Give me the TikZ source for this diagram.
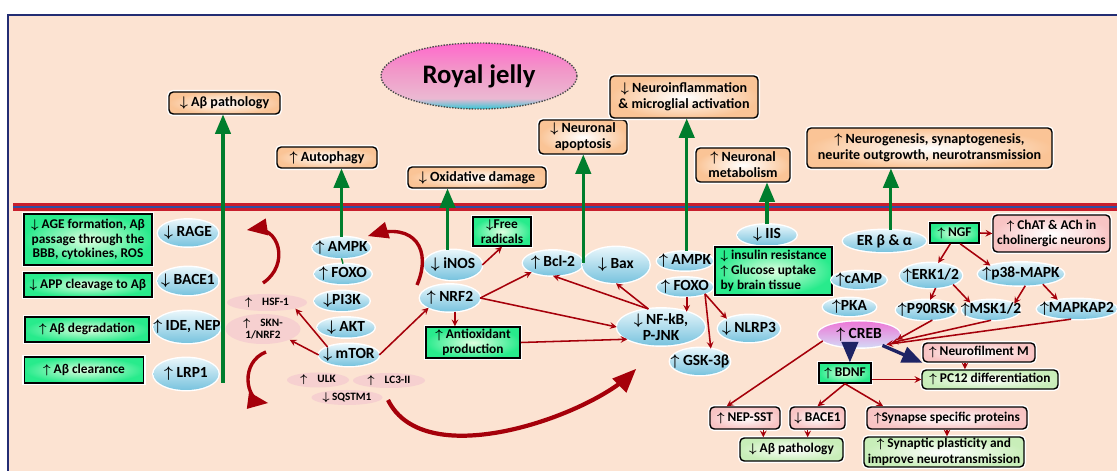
\documentclass[tikz,border=0pt]{standalone}
\usepackage{amsmath}
\usepackage{amssymb}
\usepackage{fontspec}
\setmainfont{Carlito}
\usepackage{tikz}
\usetikzlibrary{shapes.geometric, arrows}

\definecolor{peach}{RGB}{252,227,210}
\definecolor{framecol}{RGB}{35,45,115}
\definecolor{memred}{RGB}{200,30,45}
\definecolor{memblue}{RGB}{45,80,165}
\definecolor{effgreen}{RGB}{0,125,45}
\definecolor{arrred}{RGB}{165,0,10}
\definecolor{navyarr}{RGB}{30,35,100}
\definecolor{effcol}{RGB}{250,196,150}
\definecolor{molhi}{RGB}{232,246,251}
\definecolor{mollo}{RGB}{120,195,222}
\definecolor{rjgreen}{RGB}{40,235,140}
\definecolor{pinkmol}{RGB}{246,208,208}
\definecolor{pinkout}{RGB}{248,196,196}
\definecolor{greenout}{RGB}{200,238,185}
\definecolor{jellytop}{RGB}{255,105,205}
\definecolor{jellymid}{RGB}{242,150,200}
\definecolor{jellylow}{RGB}{235,185,210}
\definecolor{jellyedge}{RGB}{50,200,215}

\pgfdeclareverticalshading{jellyshade}{100bp}{color(0bp)=(jellyedge); color(25bp)=(jellyedge); color(33bp)=(jellylow); color(55bp)=(jellymid); color(75bp)=(jellytop); color(100bp)=(jellytop)}

\newcommand{\upa}{$\boldsymbol{\uparrow}$}
\newcommand{\dna}{$\boldsymbol{\downarrow}$}

\tikzset{sz/.style 2 args={minimum width=#1*0.025cm, minimum height=#2*0.025cm}}
\tikzstyle{jelly} = [ellipse, inner sep=0pt, draw=black!70, densely dotted, line width=1pt, shading=jellyshade, font=\bfseries\fontsize{19}{21}\selectfont, sz={196}{66}]
\tikzstyle{effect} = [rectangle, rounded corners=3pt, draw=black, line width=1pt, inner color=white, outer color=effcol, preaction={draw=white, line width=3pt}, font=\bfseries\fontsize{10}{11.5}\selectfont, align=center, inner sep=1pt]
\tikzstyle{gbox} = [rectangle, draw=black, line width=1.1pt, inner color=green!12!white, outer color=rjgreen, preaction={draw=white, line width=3pt}, font=\bfseries\fontsize{9.5}{10.5}\selectfont, align=center, inner sep=1pt]
\tikzstyle{outbox} = [rectangle, rounded corners=3pt, draw=black, line width=1pt, inner color=white, outer color=pinkout, preaction={draw=white, line width=3pt}, font=\bfseries\fontsize{9.5}{11}\selectfont, align=center, inner sep=1pt]
\tikzstyle{outgbox} = [outbox, outer color=greenout]
\tikzstyle{mol} = [ellipse, inner xsep=-30pt, inner ysep=-20pt, top color=molhi, bottom color=mollo, preaction={draw=white, line width=2pt}, font=\bfseries\fontsize{11}{11.5}\selectfont, align=center]
\tikzstyle{pmol} = [ellipse, inner xsep=-30pt, inner ysep=-20pt, fill=pinkmol, font=\bfseries\fontsize{8}{9}\selectfont, align=center]
\tikzstyle{garrow} = [draw=effgreen, line width=2.2pt, -triangle 45]
\tikzstyle{gline} = [draw=effgreen, line width=1pt]
\tikzstyle{rarrow} = [draw=arrred, line width=1.1pt, ->, >=stealth]
\tikzstyle{bigcurve} = [draw=arrred, line width=2.4pt, -triangle 45]
\tikzstyle{fatarrow} = [draw=navyarr, line width=2.4pt, -triangle 45]

\begin{document}
\begin{tikzpicture}[x=0.025cm, y=-0.025cm]
\useasboundingbox (0,0) rectangle (1117,471);
\clip (0,0) rectangle (1117,471);
\fill[white] (0,0) rectangle (1117,471);
\draw[line width=1.2pt, draw=framecol, fill=peach] (8,15) rectangle (1140,490);

% membrane
\draw[line width=5.5pt, memred] (13,207) -- (1140,207);
\draw[line width=1.8pt, memblue] (13,207) -- (1140,207);

\node (rj) [jelly] at (479,76) {Royal jelly};

% outcomes
\node (abpath) [effect, sz={111}{22}] at (224.5,103) {\dna{} Aβ pathology};
\node (autoph) [effect, sz={100}{21}] at (327,157.5) {\upa{} Autophagy};
\node (oxdam) [effect, sz={138}{21}] at (477,177.5) {\dna{} Oxidative damage};
\node (apopt) [effect, sz={88}{34}] at (583,137) {\dna{} Neuronal\\apoptosis};
\node (neuroinf) [effect, sz={148}{42}] at (684,97) {\dna{} Neuroinflammation\\\& microglial activation};
\node (metab) [effect, sz={94}{34}] at (743,165) {\upa{} Neuronal\\metabolism};
\node (neurogen) [effect, sz={245}{40}] at (929.5,148) {\upa{} Neurogenesis, synaptogenesis,\\neurite outgrowth, neurotransmission};

% amyloid column
\node (age) [gbox, sz={128}{51}] at (88,239.5) {\dna{} AGE formation, Aβ\\passage through the\\BBB, cytokines, ROS};
\node (rage) [mol, sz={60}{27}] at (188,233) {\dna{} RAGE};
\node (app) [gbox, sz={128}{24}] at (88,285) {\dna{} APP cleavage to Aβ};
\node (bace) [mol, sz={61}{28}] at (188,281) {\dna{} BACE1};
\node (degr) [gbox, sz={124}{25}] at (87,329.5) {\upa{} Aβ degradation};
\node (idenep) [mol, sz={67}{32}] at (187,327) {\upa{} IDE, NEP};
\node (clear) [gbox, sz={119}{26}] at (84,370) {\upa{} Aβ clearance};
\node (lrp) [mol, sz={65}{32}] at (186,374) {\upa{} LRP1};
\coordinate (abtail) at (223,383);

% autophagy
\node (hsf) [pmol, sz={80}{17}] at (267,302.5) {\upa{} HSF-1};
\node (skn) [pmol, sz={75}{30}] at (263,329) {\upa{} SKN-\\1/NRF2};
\node (ampk) [mol, sz={58}{21}] at (341.5,247.5) {\upa{} AMPK};
\node (foxo) [mol, sz={57}{20}] at (343,274) {\upa{} FOXO};
\node (pik) [mol, sz={55}{20}] at (342,301) {\dna{}PI3K};
\node (akt) [mol, sz={57}{20}] at (346,327.5) {\dna{} AKT};
\node (mtor) [mol, sz={60}{22}] at (349,355) {\dna{} mTOR};
\node (ulk) [pmol, sz={62}{15}] at (318,380) {\upa{} ULK};
\node (lc) [pmol, sz={72}{15}] at (389,380.5) {\upa{} LC3-II};
\node (sqstm) [pmol, sz={71}{15}] at (347,397.5) {\dna{} SQSTM1};
\coordinate (loopatail) at (263,283);
\coordinate (loopahead) at (247,230);
\coordinate (loopbtail) at (266,352);
\coordinate (loopbhead) at (268,403);

% oxidative stress, apoptosis, inflammation
\node (inos) [mol, sz={58}{30}] at (453,265) {\dna{} iNOS};
\node (nrf) [mol, sz={60}{27}] at (450,298) {\upa{} NRF2};
\node (freerad) [gbox, sz={58}{29}] at (502,231.5) {\dna{}Free\\radicals};
\node (antiox) [gbox, sz={94}{31}] at (473,342.5) {\upa{} Antioxidant\\production};
\node (bcl) [mol, sz={60}{25}] at (553,263) {\upa{} Bcl-2};
\node (bax) [mol, sz={67}{36}] at (616,265) {\dna{} Bax};
\node (nfkb) [mol, sz={88}{37}] at (661,327) {\dna{} NF-kB,\\P-JNK};
\node (ampkb) [mol, sz={56}{19}] at (685,261) {\upa{} AMPK};
\node (foxob) [mol, sz={56}{19}] at (685,287) {\upa{} FOXO};
\node (nlrp) [mol, sz={62}{27}] at (749,328.5) {\dna{} NLRP3};
\node (gsk) [mol, sz={60}{27}] at (700,361.5) {\upa{} GSK-3β};
\coordinate (nrftail) at (417,285);
\coordinate (ampkhead) at (368,236);
\coordinate (sqtail) at (388,400);
\coordinate (nfhead) at (636,369);

% metabolism and neurogenesis
\node (iis) [mol, sz={59}{21}] at (767,235) {\dna{} IIS};
\node (insul) [gbox, sz={111}{48}, align=left, inner xsep=4pt] at (773.5,271) {\dna{} insulin resistance\\\upa{} Glucose uptake\\by brain tissue};
\node (camp) [mol, sz={55}{18}] at (859,280) {\upa{}cAMP};
\node (pka) [mol, sz={53}{18}] at (849.5,307) {\upa{}PKA};
\node (creb) [mol, sz={82}{26}, top color={rgb,255:red,236;green,120;blue,215}, bottom color={rgb,255:red,212;green,216;blue,245}] at (859,334.5) {\upa{} CREB};
\node (er) [mol, sz={83}{22}] at (884.5,241) {ER β \& α};
\node (ngf) [gbox, sz={49}{20}] at (954.5,233) {\upa{} NGF};
\node (chat) [outbox, sz={117}{37}] at (1051.5,233.5) {\upa{} ChAT \& ACh in\\cholinergic neurons};
\node (erk) [mol, sz={62}{25}] at (931,275.5) {\upa{}ERK1/2};
\node (p38) [mol, sz={86}{23}] at (1021,274) {\upa{}p38-MAPK};
\node (p90) [mol, sz={61}{20}] at (926.5,310) {\upa{}P90RSK};
\node (msk) [mol, sz={58}{20}] at (991,310) {\upa{}MSK1/2};
\node (mapkap) [mol, sz={80}{20}] at (1077,309) {\upa{}MAPKAP2};
\node (neurofil) [outbox, sz={112}{19}] at (979,352.5) {\upa{} Neurofilment M};
\node (pc12) [outgbox, sz={136}{19}] at (990,379.5) {\upa{} PC12 differentiation};
\node (bdnf) [gbox, sz={52}{20}] at (845,373) {\upa{} BDNF};
\node (nepsst) [outbox, sz={70}{22}] at (745,418) {\upa{} NEP-SST};
\node (baceb) [outbox, sz={55}{22}] at (817.5,418) {\dna{} BACE1};
\node (synprot) [outbox, sz={160}{22}] at (947,418) {\upa{}Synapse specific proteins};
\node (abpathb) [outgbox, sz={103}{23}] at (791.5,449.5) {\dna{} Aβ pathology};
\node (synplast) [outgbox, sz={160}{30}] at (944,452) {\upa{} Synaptic plasticity and\\improve neurotransmission};

% green arrows through the membrane
\draw [garrow] (abtail) -- (abtail |- abpath.south);
\draw [gline] (foxo.north) -- (ampk.south);
\draw [garrow] (ampk.north) -- (ampk.north |- autoph.south);
\draw [garrow] (inos.110) -- (inos.110 |- oxdam.south);
\draw [garrow] (bcl.east) -- (bcl.east |- apopt.south);
\draw [garrow] (ampkb.80) -- (ampkb.80 |- neuroinf.south);
\draw [garrow] (iis.north) -- (iis.north |- metab.south);
\draw [garrow] (er.60) -- (er.60 |- neurogen.south);

% curved arrows
\draw [bigcurve] (loopatail) .. controls (290,265) and (280,225) .. (loopahead);
\draw [bigcurve] (loopbtail) .. controls (240,362) and (245,400) .. (loopbhead);
\draw [bigcurve] (nrftail) .. controls (432,250) and (415,222) .. (ampkhead);
\draw [bigcurve, line width=3pt] (sqtail) .. controls (425,475) and (590,415) .. (nfhead);

% signalling arrows
\draw [rarrow] (mtor.north west) -- (hsf.south east);
\draw [rarrow] (mtor.west) -- (skn.south east);
\draw [rarrow] (mtor.east) -- (nrf.south west);
\draw [rarrow] (inos.east) -- (freerad.south);
\draw [rarrow] (nrf.east) -- (bcl.south west);
\draw [rarrow] (nrf.east) -- (nfkb.west);
\draw [rarrow] (nrf.-70) -- (nrf.-70 |- antiox.north);
\draw [rarrow] (antiox.east) -- (nfkb.200);
\draw [rarrow] (nfkb.125) -- (bcl.south);
\draw [rarrow] (nfkb.125) -- (bax.south);
\draw [rarrow, shorten >=-2.5pt] (foxob.-80) -- (foxob.-80 |- nfkb.north);
\draw [rarrow] (foxob.south east) -- (nlrp.north west);
\draw [rarrow] (foxob.south east) -- (gsk.50);

\draw [rarrow] (ngf.east) -- (chat.west);
\draw [rarrow] ([xshift=-3pt]ngf.south) -- (erk.60);
\draw [rarrow] ([xshift=4pt]ngf.south) -- (p38.north west);
\draw [rarrow] (erk.-70) -- (p90.70);
\draw [rarrow] (erk.south east) -- (msk.north west);
\draw [rarrow] (p38.-70) -- (msk.15);
\draw [rarrow] (p38.-25) -- (mapkap.155);
\draw [rarrow] (p90.-60) -- (creb.-8);
\draw [rarrow] (msk.south) -- (creb.-14);
\draw [rarrow] (mapkap.-120) -- (creb.-20);
\draw [fatarrow] (creb.-125) -- (creb.-125 |- bdnf.north);
\draw [fatarrow] (creb.-25) -- (neurofil.south west);
\draw [rarrow] ([xshift=-10pt]neurofil.south) -- ([xshift=-10pt]neurofil.south |- pc12.north);
\draw [rarrow] (bdnf.east |- pc12.west) -- (pc12.west);
\draw [rarrow] (creb.190) -- ([xshift=-13pt]nepsst.north);
\draw [rarrow] (bdnf.south) -- (baceb.north);
\draw [rarrow] (bdnf.south) -- ([xshift=12pt]synprot.north west);
\draw [rarrow] ([xshift=13pt]nepsst.south) -- ([xshift=13pt]nepsst.south |- abpathb.north);
\draw [rarrow] ([xshift=-7pt]baceb.south) -- ([xshift=-7pt]baceb.south |- abpathb.north);
\draw [rarrow] (synprot.south) -- (synprot.south |- synplast.north);

\end{tikzpicture}
\end{document}
